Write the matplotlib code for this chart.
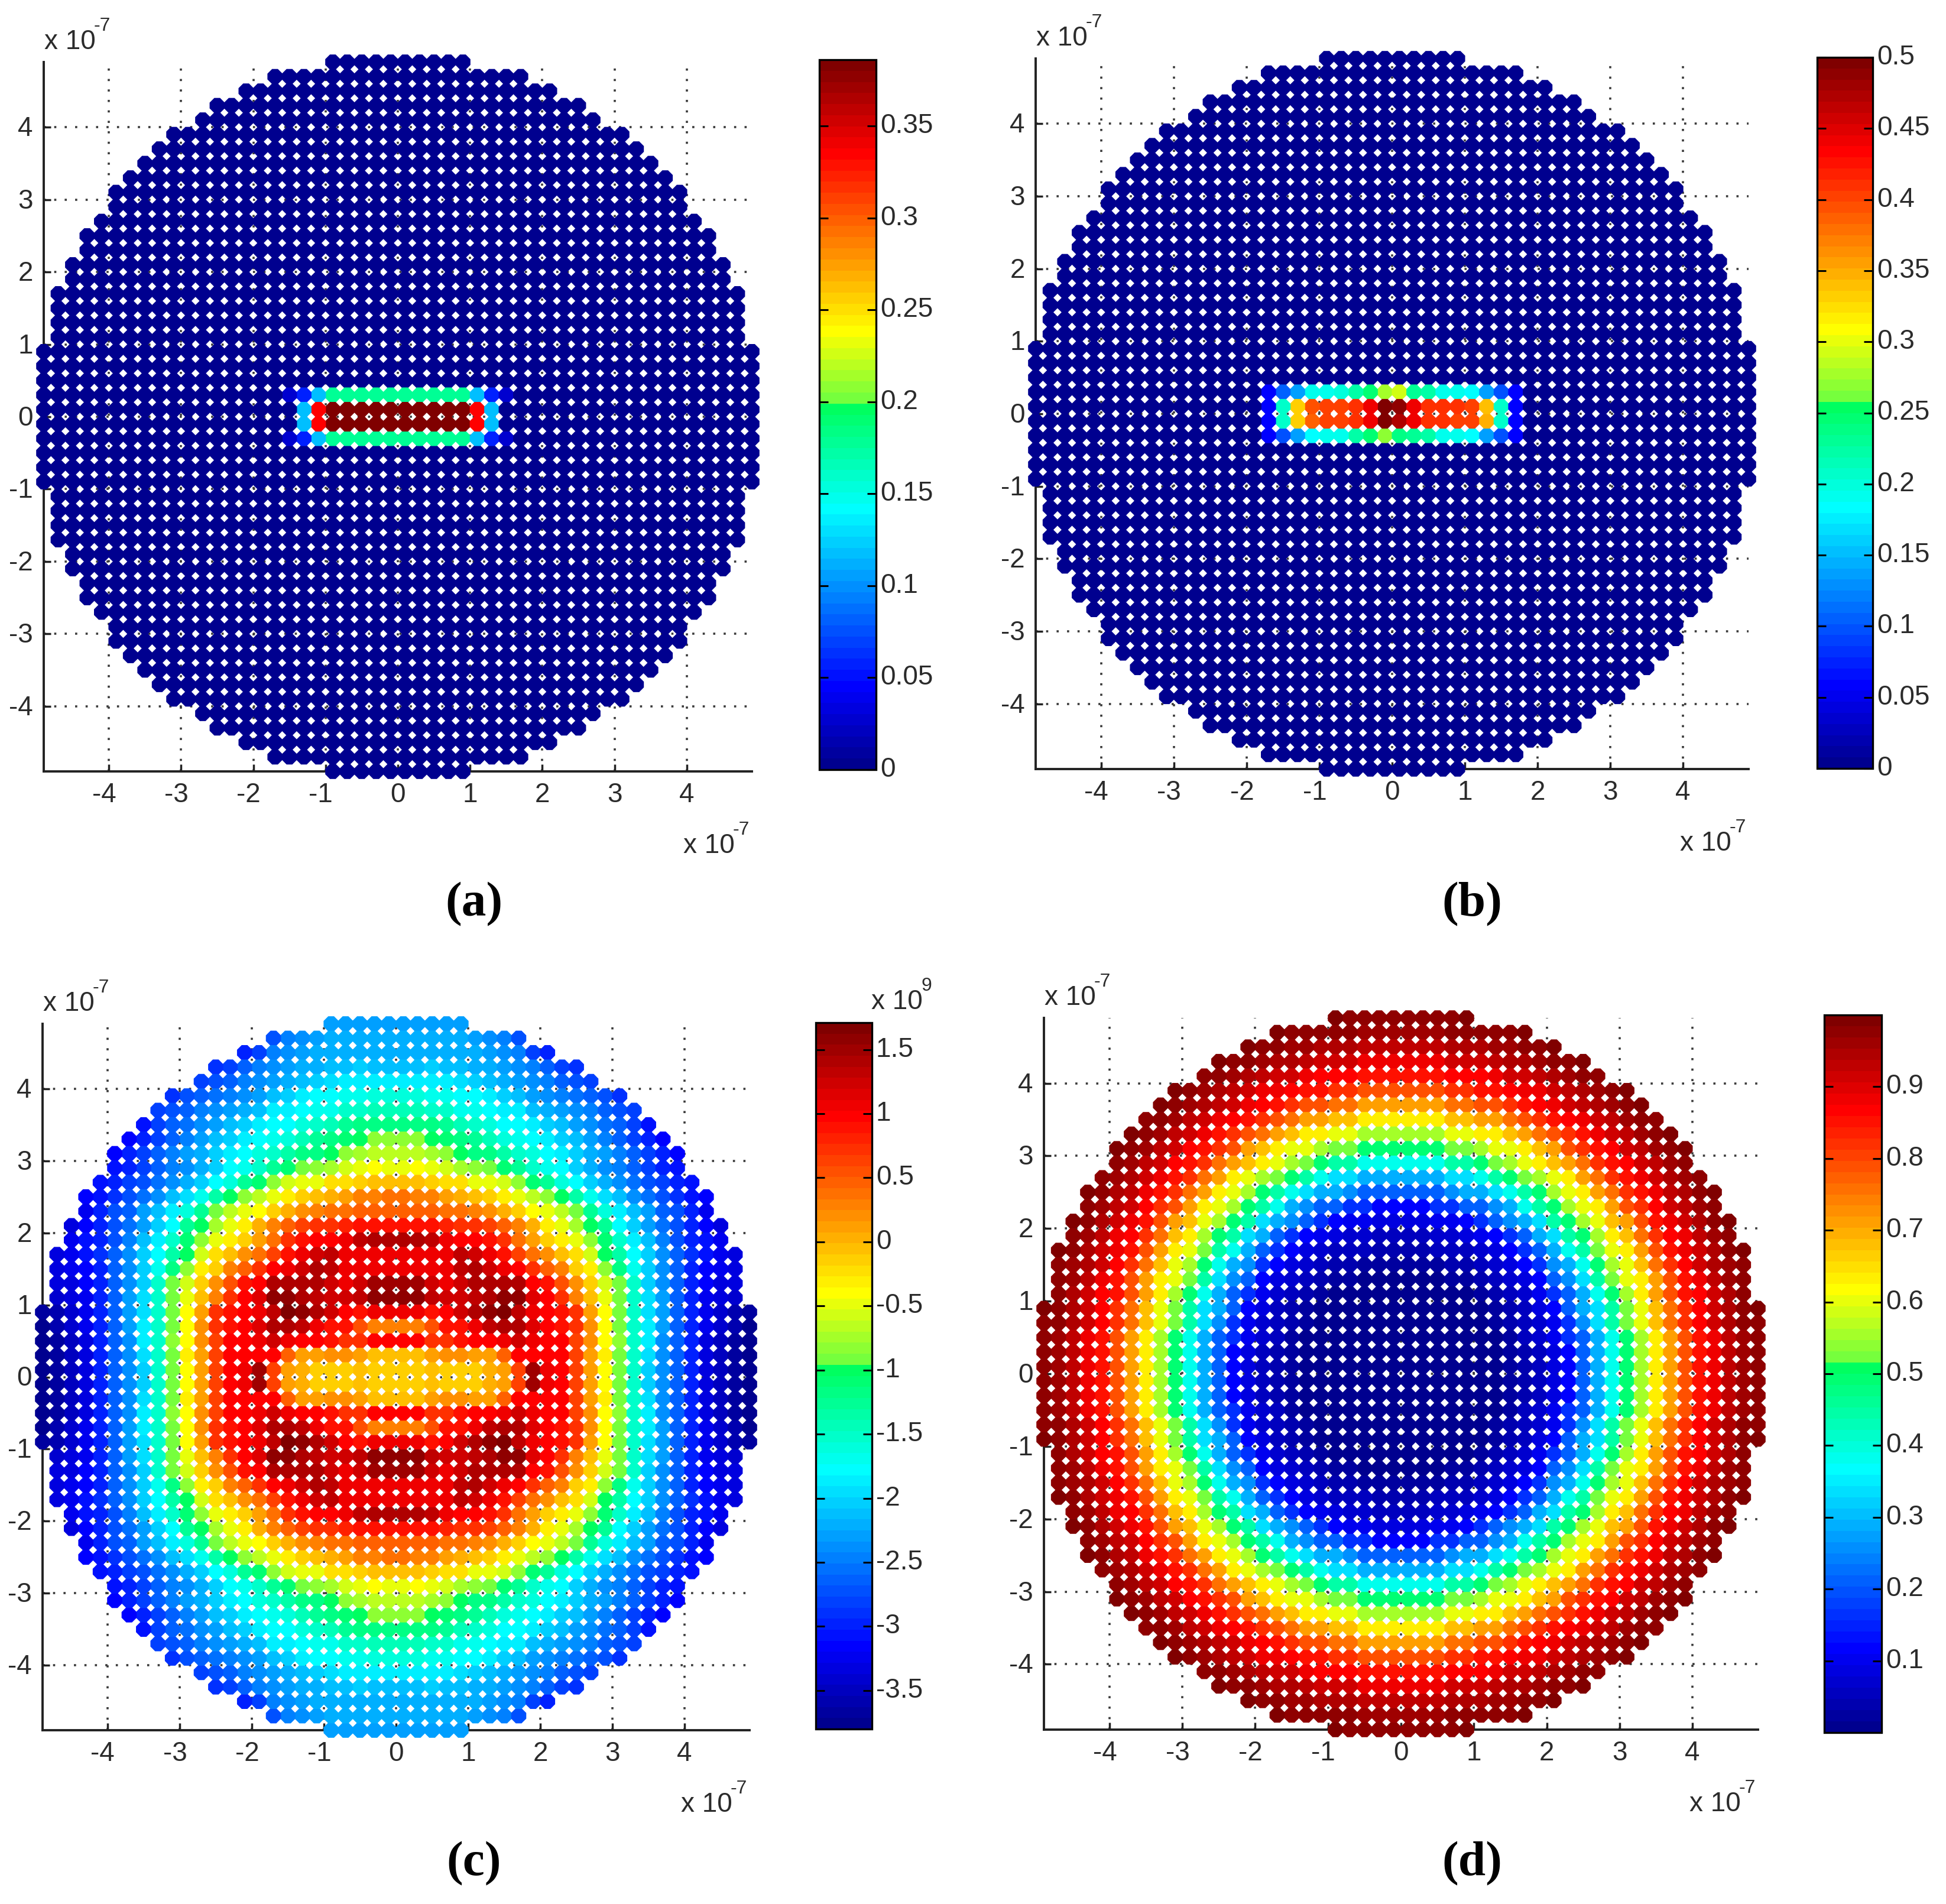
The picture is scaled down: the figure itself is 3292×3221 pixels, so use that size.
import numpy as np
import matplotlib
matplotlib.use("Agg")
import matplotlib.pyplot as plt
from matplotlib.colors import LinearSegmentedColormap, Normalize
from matplotlib.cm import ScalarMappable
from matplotlib.path import Path
from matplotlib.transforms import ScaledTranslation

plt.rcParams['font.family'] = ['Liberation Sans', 'DejaVu Sans']

W, H = 3292, 3221
TEXT = '#2b2b2b'

# dot grid (units of 1e-7), one quadrant, mirrored on both axes
ROW_Y = [4.9, 4.7, 4.5, 4.3, 4.1, 3.9, 3.7, 3.5, 3.3, 3.1, 2.9, 2.7, 2.5,
         2.3, 2.1, 1.9, 1.7, 1.5, 1.3, 1.1, 0.9, 0.7, 0.5, 0.3, 0.1]
COL_X = [0.1, 0.3, 0.5, 0.7, 0.9, 1.1, 1.3, 1.5, 1.7, 1.9, 2.1, 2.3, 2.5,
         2.7, 2.9, 3.1, 3.3, 3.5, 3.7, 3.9, 4.1, 4.3, 4.5, 4.7, 4.9]
ROW_COUNT = [5, 9, 11, 13, 14, 16, 17, 18, 19, 20, 20, 21, 22,
             22, 23, 23, 24, 24, 24, 24, 25, 25, 25, 25, 25]

# panel (a): the hot rectangle, x = -1.5 ... 1.5
A_X = [-1.5, -1.3, -1.1, -0.9, -0.7, -0.5, -0.3, -0.1, 0.1, 0.3, 0.5, 0.7, 0.9, 1.1, 1.3, 1.5]
A_ROW_03 = [.028, .06, .115, .175, .175, .175, .175, .175, .175, .175, .175, .175, .175, .115, .06, .028]
A_ROW_01 = [0, .12, .335, .385, .385, .385, .385, .385, .385, .385, .385, .385, .385, .335, .115, 0]

# panel (b): the hot rectangle, x = -1.7 ... 1.7
B_X = [-1.7, -1.5, -1.3, -1.1, -0.9, -0.7, -0.5, -0.3, -0.1, 0.1, 0.3, 0.5, 0.7, 0.9, 1.1, 1.3, 1.5, 1.7]
B_ROW_P3 = [.055, .105, .14, .19, .195, .20, .225, .245, .275, .29, .23, .225, .195, .19, .185, .14, .10, .055]
B_ROW_P1 = [.055, .205, .33, .395, .405, .405, .41, .445, .50, .49, .445, .41, .41, .41, .40, .34, .205, .055]
B_ROW_M1 = [.055, .205, .335, .385, .405, .405, .41, .44, .50, .475, .44, .41, .41, .405, .40, .35, .205, .055]
B_ROW_M3 = [.055, .10, .14, .185, .19, .195, .225, .245, .27, .24, .23, .225, .195, .19, .185, .14, .10, .055]

# panel (c): values in units of 1e9, one list per row of ROW_Y
C_ROWS = [
    [-2.3, -2.3, -2.3, -2.3, -2.3],
    [-2.25, -2.25, -2.25, -2.25, -2.25, -2.3, -2.35, -2.5, -2.7],
    [-2.2, -2.2, -2.2, -2.2, -2.2, -2.25, -2.3, -2.4, -2.5, -2.85, -3.0],
    [-2.1, -2.1, -2.0, -2.1, -2.1, -2.2, -2.25, -2.3, -2.4, -2.5, -2.6, -2.8, -2.9],
    [-1.85, -1.85, -1.85, -1.9, -1.95, -2.0, -2.1, -2.2, -2.3, -2.4, -2.5, -2.6, -2.7, -2.85],
    [-1.6, -1.6, -1.65, -1.7, -1.8, -1.8, -1.9, -2.0, -2.15, -2.3, -2.4, -2.5, -2.55, -2.65, -2.7, -2.9],
    [-1.4, -1.45, -1.5, -1.55, -1.65, -1.7, -1.8, -1.85, -1.9, -2.1, -2.2, -2.3, -2.4, -2.5, -2.6, -2.7, -2.85],
    [-1.15, -1.15, -1.2, -1.3, -1.4, -1.5, -1.6, -1.75, -1.8, -1.9, -2.0, -2.1, -2.3, -2.4, -2.55, -2.65, -2.85, -3.05],
    [-0.85, -0.85, -1.0, -1.1, -1.2, -1.3, -1.45, -1.6, -1.7, -1.8, -1.9, -2.0, -2.15, -2.3, -2.45, -2.6, -2.8, -2.95, -3.15],
    [-0.65, -0.7, -0.75, -0.85, -1.0, -1.15, -1.2, -1.35, -1.5, -1.6, -1.75, -1.85, -2.0, -2.2, -2.3, -2.5, -2.65, -2.8, -3.0, -3.15],
    [-0.45, -0.37, -0.5, -0.6, -0.75, -0.85, -0.9, -1.1, -1.3, -1.5, -1.65, -1.8, -2.0, -2.2, -2.4, -2.5, -2.6, -2.8, -2.95, -3.05],
    [-0.05, -0.05, -0.1, -0.2, -0.25, -0.45, -0.5, -0.6, -0.85, -1.05, -1.3, -1.6, -1.8, -2.0, -2.2, -2.4, -2.55, -2.7, -2.85, -3.0, -3.1],
    [0.35, 0.3, 0.25, 0.15, 0.05, -0.05, -0.1, -0.3, -0.45, -0.65, -0.85, -1.0, -1.35, -1.65, -1.95, -2.15, -2.35, -2.55, -2.7, -2.9, -3.05, -3.15],
    [0.5, 0.5, 0.45, 0.4, 0.35, 0.3, 0.2, 0.05, -0.15, -0.4, -0.5, -0.7, -0.9, -1.3, -1.6, -1.85, -2.1, -2.3, -2.6, -2.75, -3.0, -3.2],
    [0.9, 0.9, 0.85, 0.8, 0.75, 0.75, 0.6, 0.45, 0.3, 0.0, -0.3, -0.5, -0.75, -1.0, -1.3, -1.75, -2.0, -2.3, -2.55, -2.75, -2.95, -3.15, -3.3],
    [1.45, 1.45, 1.3, 1.05, 1.0, 0.95, 0.85, 0.7, 0.4, 0.15, -0.1, -0.3, -0.5, -0.85, -1.05, -1.5, -1.85, -2.15, -2.45, -2.7, -2.95, -3.1, -3.25],
    [1.1, 1.05, 1.05, 1.1, 1.3, 1.2, 1.05, 0.9, 0.6, 0.4, 0.2, -0.05, -0.25, -0.55, -1.0, -1.35, -1.75, -2.05, -2.35, -2.65, -2.9, -3.05, -3.2, -3.3],
    [1.1, 1.1, 1.05, 1.1, 1.3, 1.4, 1.2, 1.1, 0.95, 0.7, 0.45, 0.25, -0.1, -0.35, -0.8, -1.2, -1.7, -2.05, -2.35, -2.65, -2.95, -3.15, -3.25, -3.3],
    [1.5, 1.5, 1.2, 1.1, 1.2, 1.4, 1.4, 1.45, 1.4, 1.0, 0.85, 0.55, 0.2, -0.1, -0.6, -0.9, -1.5, -2.0, -2.35, -2.65, -2.95, -3.15, -3.3, -3.35],
    [1.55, 1.6, 1.35, 1.25, 1.2, 1.35, 1.45, 1.55, 1.6, 1.15, 1.0, 0.7, 0.25, -0.05, -0.45, -0.9, -1.5, -1.95, -2.3, -2.6, -2.95, -3.2, -3.3, -3.4],
    [1.05, 1.05, 0.85, 0.95, 1.2, 1.4, 1.6, 1.65, 1.35, 1.1, 1.0, 0.9, 0.7, 0.15, -0.4, -0.95, -1.5, -1.95, -2.3, -2.6, -3.0, -3.25, -3.4, -3.55, -3.7],
    [0.3, 0.3, 0.55, 0.9, 0.9, 1.1, 1.3, 1.4, 1.4, 1.15, 1.0, 0.9, 0.7, 0.2, -0.4, -0.9, -1.5, -1.9, -2.3, -2.6, -3.0, -3.25, -3.45, -3.6, -3.75],
    [0.95, 0.95, 0.7, 0.7, 0.9, 1.0, 1.0, 1.1, 1.2, 1.1, 1.0, 0.95, 0.65, 0.2, -0.4, -0.85, -1.5, -1.9, -2.35, -2.6, -3.0, -3.3, -3.5, -3.65, -3.8],
    [-0.05, -0.05, 0.1, 0.2, 0.2, 0.15, 0.15, 0.5, 0.95, 1.0, 1.0, 0.95, 0.6, 0.1, -0.35, -0.9, -1.5, -1.95, -2.35, -2.65, -3.0, -3.3, -3.5, -3.65, -3.8],
    [-0.1, -0.1, -0.05, -0.1, -0.1, -0.1, 0.0, 0.1, 0.6, 1.5, 1.1, 1.0, 0.65, 0.1, -0.4, -0.95, -1.55, -2.0, -2.35, -2.65, -3.0, -3.3, -3.5, -3.7, -3.8],
]

# panel (d): value per thin ring, with the outer radius of each ring
D_RING_OUTER = [1.05, 1.15, 1.25, 1.35, 1.45, 1.55, 1.65, 1.75, 1.85, 1.95,
                2.05, 2.15, 2.25, 2.35, 2.45, 2.55, 2.65, 2.75, 2.85, 2.95,
                3.05, 3.15, 3.25, 3.35, 3.45, 3.55, 3.65, 3.75, 3.85, 3.95,
                4.05, 4.15, 4.25, 4.35, 4.45, 4.55, 4.65, 4.75, 4.85, 4.95, 5.1]
D_RING_VALUE = [0.0, .003, .006, .01, .014, .02, .03, .04, .05, .06,
                .075, .09, .105, .12, .16, .21, .25, .29, .34, .39,
                .44, .49, .53, .56, .60, .64, .675, .71, .75, .79,
                .82, .85, .87, .89, .91, .93, .945, .96, .97, .98, .99]

AXIS_TICKS = [-4, -3, -2, -1, 0, 1, 2, 3, 4]
CB_A = [0, .05, .1, .15, .2, .25, .3, .35]
CB_A_L = ['0', '0.05', '0.1', '0.15', '0.2', '0.25', '0.3', '0.35']
CB_B = [0, .05, .1, .15, .2, .25, .3, .35, .4, .45, .5]
CB_B_L = ['0', '0.05', '0.1', '0.15', '0.2', '0.25', '0.3', '0.35', '0.4', '0.45', '0.5']
CB_C = [-3.5, -3, -2.5, -2, -1.5, -1, -.5, 0, .5, 1, 1.5]
CB_C_L = ['-3.5', '-3', '-2.5', '-2', '-1.5', '-1', '-0.5', '0', '0.5', '1', '1.5']
CB_D = [.1, .2, .3, .4, .5, .6, .7, .8, .9]
CB_D_L = ['0.1', '0.2', '0.3', '0.4', '0.5', '0.6', '0.7', '0.8', '0.9']

# jet as it appears in the reference's 64-step bars, with the step at green
JET = LinearSegmentedColormap.from_list('mjet', [
    (0.0, (0, 0, 0.5625)), (7 / 63, (0, 0, 1)), (23 / 63, (0, 1, 1)),
    (0.512, (0, 1, 0.36)), (0.516, (0.42, 1, 0.26)),
    (39 / 63, (1, 1, 0)), (55 / 63, (1, 0, 0)), (1.0, (0.5, 0, 0))], N=64)

# octagon with wide chamfers: touches its neighbours, leaves round-ish holes
DOT = Path([(1, .38), (.38, 1), (-.38, 1), (-1, .38), (-1, -.38), (-.38, -1),
            (.38, -1), (1, -.38), (1, .38)], closed=True)


def dots():
    xs, ys = [], []
    for y, n in zip(ROW_Y, ROW_COUNT):
        for x in COL_X[:n]:
            for sx in (-1, 1):
                for sy in (-1, 1):
                    xs.append(sx * x)
                    ys.append(sy * y)
    return np.array(xs), np.array(ys)


X, Y = dots()


def key(a):
    return np.round(a * 10).astype(int)


def values_patch(rows):
    v = np.zeros_like(X)
    for y_val, xs, vals in rows:
        for x_val, val in zip(xs, vals):
            v[(key(X) == round(x_val * 10)) & (key(Y) == round(y_val * 10))] = val
    return v


def values_c():
    v = np.zeros_like(X)
    for y, row in zip(ROW_Y, C_ROWS):
        for x, val in zip(COL_X, row):
            v[(key(np.abs(X)) == round(x * 10)) & (key(np.abs(Y)) == round(y * 10))] = val
    return v


def values_d():
    r = np.hypot(X, Y)
    idx = np.searchsorted(D_RING_OUTER, r, side='right')
    return np.array(D_RING_VALUE)[np.minimum(idx, len(D_RING_VALUE) - 1)]


fig = plt.figure(figsize=(W / 100, H / 100), dpi=100, facecolor='white')


def box(l, t, r, b):
    return [l / W, 1 - b / H, (r - l) / W, (b - t) / H]


def ftext(x, y, s, **kw):
    kw.setdefault('color', TEXT)
    fig.text(x / W, 1 - y / H, s, **kw)


def offset(x, y, exp):
    ftext(x, y, 'x 10', fontsize=33, ha='left', va='baseline')
    ftext(x + 84, y - 31, exp, fontsize=23, ha='left', va='baseline')


def nudge(label, dx_px, dy_px):
    label.set_transform(label.get_transform() +
                        ScaledTranslation(dx_px / 100, dy_px / 100, fig.dpi_scale_trans))


def panel(ax_px, cb_px, vals, vmin, vmax, ticks, labels, letter, letter_xy):
    l, t, r, b = ax_px
    ax = fig.add_axes(box(l, t, r, b))
    ax.set_xlim(-4.9, 4.9)
    ax.set_ylim(-4.9, 4.9)
    ax.set_facecolor('none')
    ax.set_axisbelow(True)
    ax.set_xticks(AXIS_TICKS)
    ax.set_yticks(AXIS_TICKS)
    ax.set_xticklabels([str(v) for v in AXIS_TICKS])
    ax.set_yticklabels([str(v) for v in AXIS_TICKS])
    ax.tick_params(direction='in', length=8.6, width=2.5, color='#222222',
                   labelsize=33, labelcolor=TEXT, pad=13)
    for lab, v in zip(ax.get_xticklabels(), AXIS_TICKS):
        if v < 0:
            nudge(lab, -8, 0)
    for lab in ax.get_yticklabels():
        nudge(lab, 0, 2)
    ax.grid(True, color='#3a3a3a', linewidth=2.6, linestyle=(0, (1, 3.9)))
    for side in ('top', 'right'):
        ax.spines[side].set_visible(False)
    for side in ('left', 'bottom'):
        ax.spines[side].set_linewidth(2.8)
        ax.spines[side].set_color('#222222')
        ax.spines[side].set_zorder(0.6)
    norm = Normalize(vmin, vmax)
    ax.scatter(X, Y, c=vals, cmap=JET, norm=norm, marker=DOT, s=(25.6 * 0.72) ** 2,
               linewidths=0, clip_on=False, zorder=3)
    offset(l + 1, t - 22, '-7')
    offset(r - 116, b + 138, '-7')

    cax = fig.add_axes(box(*cb_px))
    cb = fig.colorbar(ScalarMappable(norm=norm, cmap=JET), cax=cax)
    cb.set_ticks(ticks)
    cb.set_ticklabels(labels)
    cb.minorticks_off()
    cax.tick_params(axis='y', which='major', direction='in', left=True, right=True,
                    length=10.5, width=2.2, color='black', labelsize=33,
                    labelcolor=TEXT, pad=5)
    for lab in cax.get_yticklabels():
        nudge(lab, 0, 5)
    cb.outline.set_linewidth(2.4)
    cb.outline.set_edgecolor('black')
    ftext(letter_xy[0], letter_xy[1], letter, fontsize=60, ha='center', va='center',
          color='black', family='Liberation Serif', weight='bold')


va = values_patch([(0.3, A_X, A_ROW_03), (0.1, A_X, A_ROW_01),
                   (-0.1, A_X, A_ROW_01), (-0.3, A_X, A_ROW_03)])
vb = values_patch([(0.3, B_X, B_ROW_P3), (0.1, B_X, B_ROW_P1),
                   (-0.1, B_X, B_ROW_M1), (-0.3, B_X, B_ROW_M3)])

panel((74, 105, 1272, 1305), (1386, 101, 1482, 1302), va, 0, 0.386, CB_A, CB_A_L, '(a)', (802, 1530))
panel((1752, 99, 2958, 1301), (3074, 97, 3168, 1300), vb, 0, 0.5, CB_B, CB_B_L, '(b)', (2490, 1530))
panel((72, 1732, 1268, 2927), (1380, 1730, 1475, 2925), values_c(), -3.8, 1.71, CB_C, CB_C_L, '(c)', (802, 3153))
panel((1766, 1722, 2974, 2926), (3086, 1717, 3183, 2931), values_d(), 0, 1.0, CB_D, CB_D_L, '(d)', (2490, 3153))

# colour bar multiplier of panel (c)
ftext(1474, 1707, 'x 10', fontsize=33, ha='left', va='baseline')
ftext(1558, 1676, '9', fontsize=23, ha='left', va='baseline')

fig.savefig('out.png', dpi=100, facecolor='white')
